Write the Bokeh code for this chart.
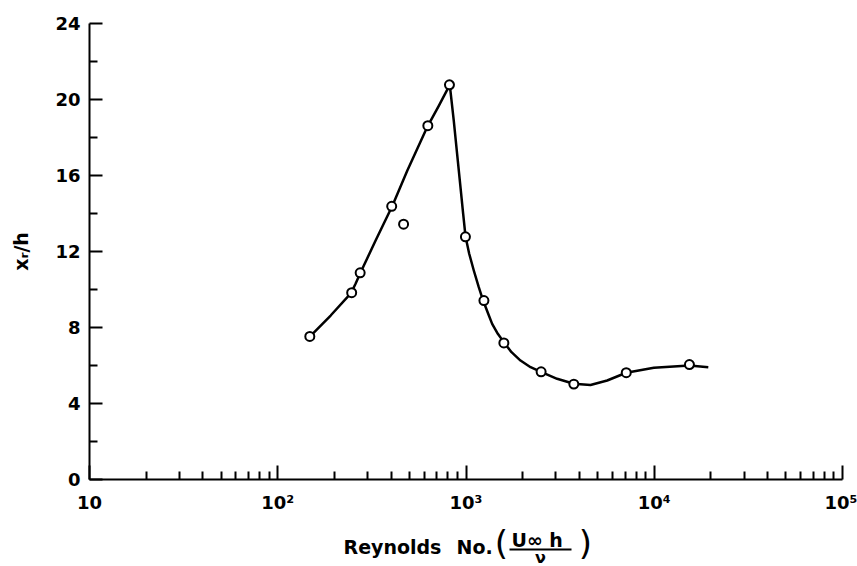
from bokeh.plotting import figure
from bokeh.models import Range1d, FixedTicker
from bokeh.layouts import column
from bokeh.core.properties import value
from bokeh.embed import file_html
from bokeh.resources import INLINE

# measured data points (Reynolds number, x_r/h)
reynolds = [148, 247, 274, 403, 466, 627, 817, 993, 1245, 1589, 2506, 3739, 7100, 15380]
xr_over_h = [7.53, 9.83, 10.88, 14.38, 13.44, 18.62, 20.77, 12.77, 9.42, 7.19, 5.67, 5.02, 5.62, 6.05]

# hand-drawn fitted curve
curve_re = [149, 191, 245, 259, 275, 331, 407, 488, 625, 718, 820, 861, 897, 935, 966,
            994, 1040, 1100, 1169, 1233, 1312, 1377, 1476, 1588, 1745, 1948, 2203, 2520,
            3048, 3738, 4585, 5623, 7096, 9955, 15380, 19370]
curve_xr = [7.54, 8.63, 9.81, 10.30, 10.88, 12.58, 14.42, 16.26, 18.59, 19.68, 20.77, 18.89,
            17.14, 15.38, 13.98, 12.79, 11.88, 11.0, 10.12, 9.42, 8.72, 8.19, 7.67, 7.23,
            6.70, 6.26, 5.91, 5.65, 5.30, 5.04, 4.97, 5.21, 5.62, 5.88, 6.0, 5.91]

x_major = [10, 100, 1000, 10000, 100000]
x_labels = ["10", "10²", "10³", "10⁴", "10⁵"]
y_major = [0, 4, 8, 12, 16, 20, 24]
y_minor = [2, 6, 10, 14, 18, 22]

FONT = "DejaVu Sans"

p = figure(width=857, height=517, x_axis_type="log",
           x_range=Range1d(10, 100000), y_range=Range1d(0, 24),
           output_backend="svg", toolbar_location=None,
           min_border_left=89, min_border_right=15, min_border_top=23, min_border_bottom=38)
p.outline_line_color = None
p.xgrid.visible = False
p.ygrid.visible = False

x_minor = [m * d for d in [10, 100, 1000, 10000] for m in range(2, 10)]
p.xaxis.ticker = FixedTicker(ticks=x_major, minor_ticks=x_minor)
p.xaxis.major_label_overrides = {t: l for t, l in zip(x_major, x_labels)}
p.yaxis.ticker = FixedTicker(ticks=y_major, minor_ticks=y_minor)

for ax in (p.xaxis[0], p.yaxis[0]):
    ax.axis_line_width = 2
    ax.axis_line_color = "black"
    ax.major_tick_line_width = 2
    ax.minor_tick_line_width = 2
    ax.major_tick_line_color = "black"
    ax.minor_tick_line_color = "black"
    ax.major_tick_out = 0
    ax.minor_tick_out = 0
    ax.major_label_text_font = FONT
    ax.major_label_text_font_style = "bold"
    ax.major_label_text_font_size = "18px"
    ax.major_label_text_color = "black"

p.yaxis.major_tick_in = 13
p.yaxis.minor_tick_in = 8
p.xaxis.major_tick_in = 14
p.xaxis.minor_tick_in = 8
p.yaxis.major_label_standoff = 9
p.xaxis.major_label_standoff = 12

p.yaxis.axis_label = "xᵣ/h"
p.yaxis.axis_label_text_font = FONT
p.yaxis.axis_label_text_font_style = "bold"
p.yaxis.axis_label_text_font_size = "19px"
p.yaxis.axis_label_text_color = "black"
p.yaxis.axis_label_standoff = 20

p.line(curve_re, curve_xr, line_width=2.5, line_color="black", line_join="round")
p.scatter(reynolds, xr_over_h, marker="circle", size=9, fill_color="white",
          line_color="black", line_width=2)

# x-axis title strip below the chart (coordinates ~ page pixels; its frame is
# aligned with the main frame, 89..842)
q = figure(width=857, height=49, x_range=Range1d(89, 842), y_range=Range1d(566, 517),
           output_backend="svg", toolbar_location=None,
           x_axis_location=None, y_axis_location=None,
           min_border_left=89, min_border_right=15, min_border_top=0, min_border_bottom=0)
q.outline_line_color = None
q.xgrid.visible = False
q.ygrid.visible = False

def txt(px, py, s, size, align="left", baseline="alphabetic", style="bold"):
    q.text(x=[px], y=[py], text=[s], text_align=align, text_baseline=baseline,
           text_font=value(FONT), text_font_style=style,
           text_font_size=value(size), text_color="black")

txt(343, 546, "Reynolds", "19px")
txt(456, 546, "No.", "19px")
txt(501, 542, "(", "34px", align="center", baseline="middle", style="normal")
txt(511, 539, "U∞ h", "19px")
q.segment(x0=[509], y0=[549], x1=[571], y1=[549], line_width=2, line_color="black")
txt(540, 557, "ν", "16px", align="center")
txt(585, 542, ")", "34px", align="center", baseline="middle", style="normal")

layout = column(p, q, spacing=0)
open("out.html", "w").write(file_html(layout, INLINE))
